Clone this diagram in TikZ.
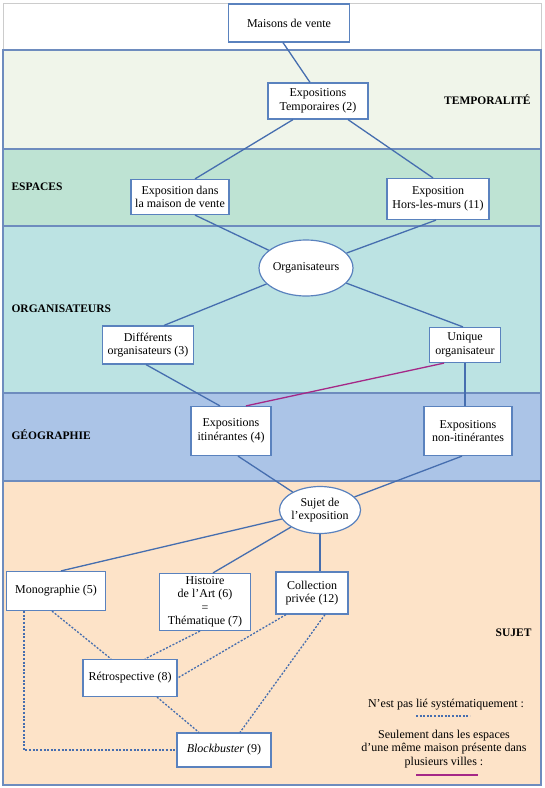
\documentclass[tikz,border=0pt]{standalone}
\usepackage{fontspec}
\setmainfont{Liberation Serif}
\usepackage{tikz}
\usetikzlibrary{positioning,calc,shapes.geometric}

\definecolor{linecol}{RGB}{70,110,175}
\definecolor{boxcol}{RGB}{90,130,190}
\definecolor{bandline}{RGB}{110,140,190}
\definecolor{purplecol}{RGB}{165,40,135}
\definecolor{tempfill}{RGB}{240,245,234}
\definecolor{espfill}{RGB}{190,227,211}
\definecolor{orgfill}{RGB}{188,227,227}
\definecolor{geofill}{RGB}{171,196,231}
\definecolor{sujfill}{RGB}{253,227,200}

\begin{document}
\begin{tikzpicture}[
    x=1pt, y=-1pt,
    box/.style={draw=boxcol, line width=1.2pt, fill=white, inner sep=1pt, align=center, font=\fontsize{12}{13.5}\selectfont},
    ell/.style={box, ellipse},
    band/.style={draw=bandline, line width=1.2pt},
    bandlabel/.style={font=\fontsize{11.5}{13}\selectfont\bfseries},
    legend/.style={align=center, font=\fontsize{12}{13.5}\selectfont},
    link/.style={draw=linecol, line width=1.3pt},
    dotlink/.style={link, dash pattern=on 2pt off 1.6pt},
    purplelink/.style={draw=purplecol, line width=1.3pt},
]
    \useasboundingbox (0,0) rectangle (545,788);

    % === BANDS ===
    \draw[gray!40, line width=1pt, fill=white] (3,3) rectangle (541,785);
    \draw[band, fill=tempfill] (3,50) rectangle (541,149);
    \draw[band, fill=espfill] (3,149) rectangle (541,226);
    \draw[band, fill=orgfill] (3,226) rectangle (541,393);
    \draw[band, fill=geofill] (3,393) rectangle (541,481);
    \draw[band, fill=sujfill] (3,481) rectangle (541,785);

    \node[bandlabel, anchor=east] (ltemp) at (534,100) {TEMPORALITÉ};
    \node[bandlabel, anchor=west] (lesp) at (8,187) {ESPACES};
    \node[bandlabel, anchor=west] (lorg) at (8,309) {ORGANISATEURS};
    \node[bandlabel, anchor=west] (lgeo) at (8,435) {GÉOGRAPHIE};
    \node[bandlabel, anchor=east] (lsuj) at (535,633) {SUJET};

    % === TOP ===
    \node[box, minimum width=121, minimum height=38] (maisons) at (289,23) {Maisons de vente};
    \node[box, minimum width=100, minimum height=36] (temp) at (318,101) {Expositions\\Temporaires (2)};

    % === ESPACES ===
    \node[box, minimum width=98, minimum height=35] (dans) at (180,197) {Exposition dans\\la maison de vente};
    \node[box, minimum width=102, minimum height=41] (hors) at (438,199) {Exposition\\Hors-les-murs (11)};

    % === ORGANISATEURS ===
    \node[ell, minimum width=76, minimum height=56, inner sep=0pt] (org) at (306,268) {Organisateurs};
    \node[box, minimum width=91, minimum height=38] (diff) at (148,345) {Différents\\organisateurs (3)};
    \node[box, minimum width=71, minimum height=35] (unique) at (465,345) {Unique\\organisateur};

    % === GEOGRAPHIE ===
    \node[box, minimum width=80, minimum height=49] (itin) at (231,431) {Expositions\\itinérantes (4)};
    \node[box, minimum width=88, minimum height=49] (nonitin) at (468,431) {Expositions\\non-itinérantes};

    % === SUJET ===
    \node[ell, minimum width=77, minimum height=47, inner sep=0pt] (sujet) at (320,510) {Sujet de\\l’exposition};
    \node[box, minimum width=99, minimum height=39] (mono) at (56,591) {Monographie (5)};
    \node[box, minimum width=91, minimum height=57] (hist) at (205,602) {Histoire\\de l’Art (6)\\=\\Thématique (7)};
    \node[box, minimum width=72, minimum height=42] (coll) at (312,593) {Collection\\privée (12)};
    \node[box, minimum width=94, minimum height=37] (retro) at (130,678) {Rétrospective (8)};
    \node[box, minimum width=94, minimum height=34] (block) at (224,750) {\textit{Blockbuster} (9)};

    % === LEGEND ===
    \node[legend] (ldot) at (446,705) {N’est pas lié systématiquement :};
    \coordinate (dotA) at (416,716);
    \coordinate (dotB) at (470,716);
    \node[legend] (lpurple) at (444,749) {Seulement dans les espaces\\d’une même maison présente dans\\plusieurs villes :};
    \coordinate (purA) at (416,775);
    \coordinate (purB) at (478,775);

    % === LINKS: tree ===
    \draw[link] ([xshift=-6pt]maisons.south) -- ([xshift=-8pt]temp.north);
    \draw[link] ([xshift=-25pt]temp.south) -- ([xshift=15pt]dans.north);
    \draw[link] ([xshift=30pt]temp.south) -- ([xshift=-5pt]hors.north);
    \draw[link] ([xshift=15pt]dans.south) -- (org);
    \draw[link] ([xshift=-2pt]hors.south) -- (org);
    \draw[link] (org) -- ([xshift=16pt]diff.north);
    \draw[link] (org) -- ([xshift=-2pt]unique.north);
    \draw[link] ([xshift=-2pt]diff.south) -- ([xshift=-11pt]itin.north);
    \draw[link] (unique) -- (unique |- nonitin.north);
    \draw[link] ([xshift=7pt]itin.south) -- (sujet);
    \draw[link] ([xshift=-6pt]nonitin.south) -- (sujet);
    \draw[link] (sujet) -- ([xshift=5pt]mono.north);
    \draw[link] (sujet) -- ([xshift=8pt]hist.north);
    \draw[link] (sujet) -- (sujet |- coll.north);

    % === LINKS: purple ===
    \draw[purplelink] ([xshift=-21pt]unique.south) -- ([xshift=15pt]itin.north);

    % === LINKS: dotted ===
    \draw[dotlink] ([xshift=-32pt]mono.south) |- (block);
    \draw[dotlink] ([xshift=-4pt]mono.south) -- ([xshift=-19pt]retro.north);
    \draw[dotlink] ([xshift=-5pt]hist.south) -- ([xshift=15pt]retro.north);
    \draw[dotlink] ([xshift=-26pt]coll.south) -- (retro.east);
    \draw[dotlink] ([xshift=13pt]coll.south) -- ([xshift=16pt]block.north);
    \draw[dotlink] ([xshift=27pt]retro.south) -- ([xshift=-25pt]block.north);

    % === LINKS: legend ===
    \draw[dotlink] (dotA) -- (dotB);
    \draw[purplelink] (purA) -- (purB);
\end{tikzpicture}
\end{document}
